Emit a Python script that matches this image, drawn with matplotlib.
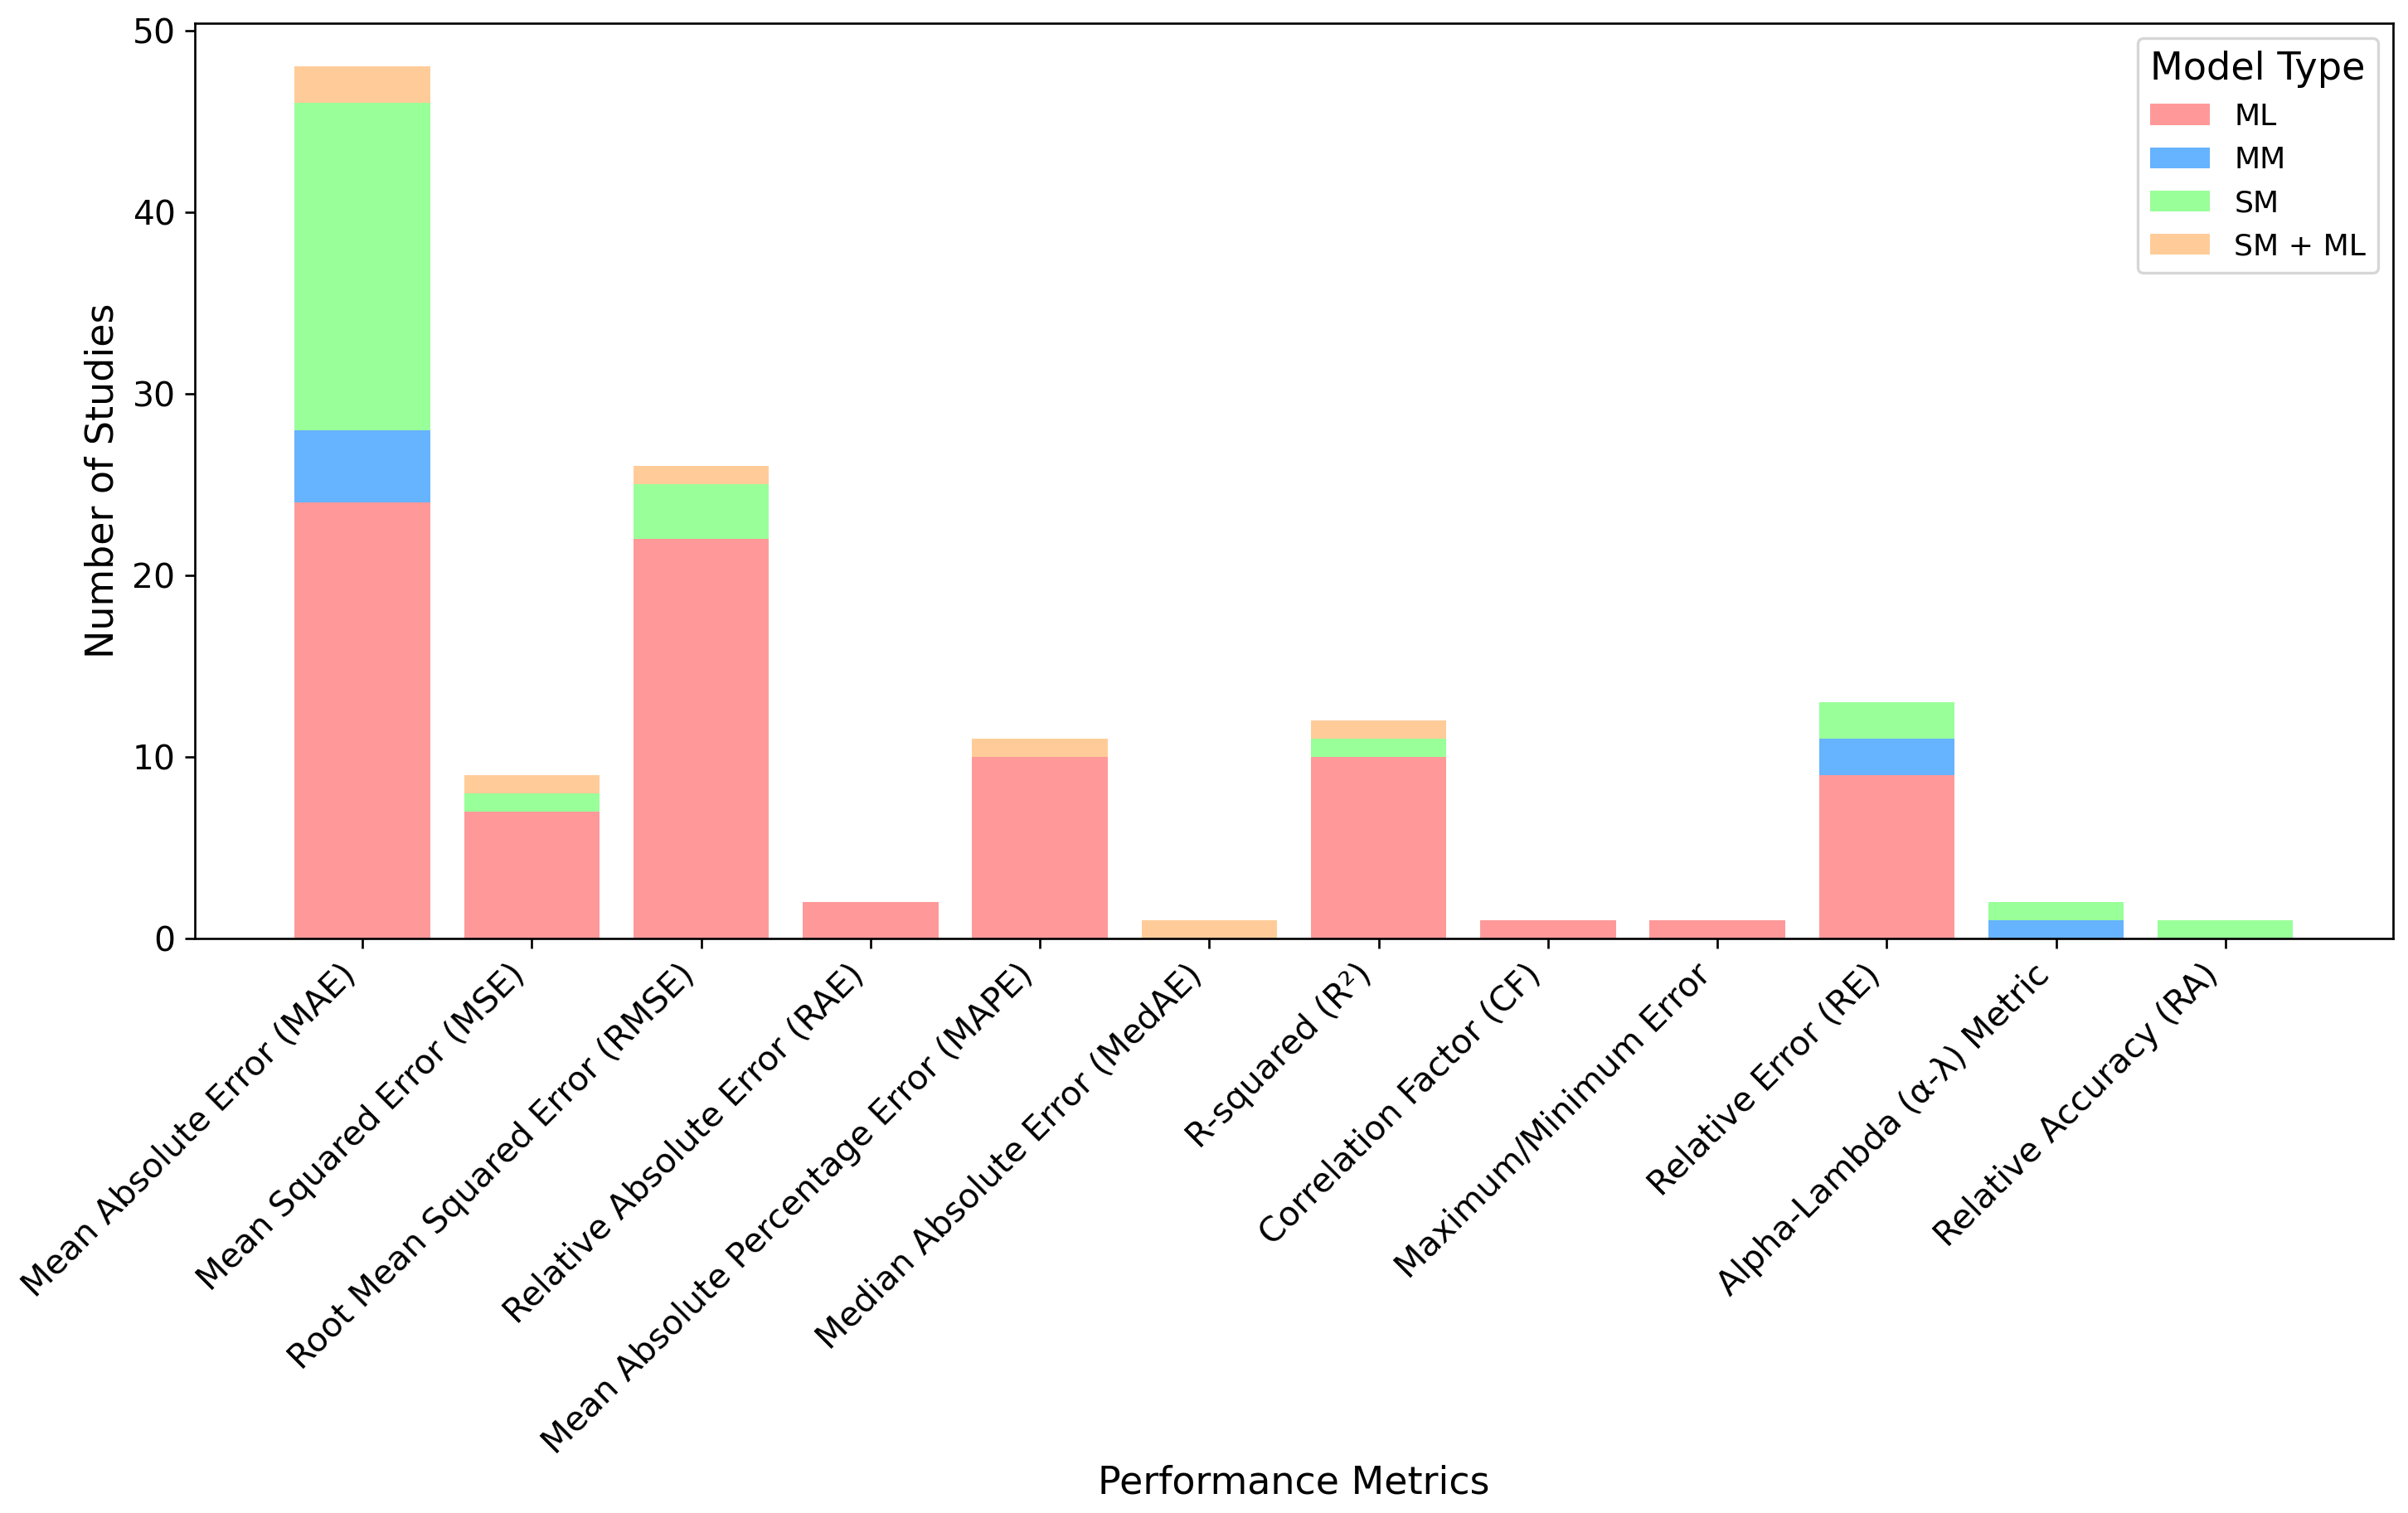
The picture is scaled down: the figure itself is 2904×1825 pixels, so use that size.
import numpy as np
import matplotlib
matplotlib.use("Agg")
from matplotlib import pyplot as plt

# metrics on the x axis
metrics = ["Mean Absolute Error (MAE)", "Mean Squared Error (MSE)",
           "Root Mean Squared Error (RMSE)", "Relative Absolute Error (RAE)",
           "Mean Absolute Percentage Error (MAPE)", "Median Absolute Error (MedAE)",
           "R-squared (R²)", "Correlation Factor (CF)", "Maximum/Minimum Error",
           "Relative Error (RE)", "Alpha-Lambda (α-λ) Metric", "Relative Accuracy (RA)"]

# number of studies per model type
ml = [24, 7, 22, 2, 10, 0, 10, 1, 1, 9, 0, 0]
mm = [4, 0, 0, 0, 0, 0, 0, 0, 0, 2, 1, 0]
sm = [18, 1, 3, 0, 0, 0, 1, 0, 0, 2, 1, 1]
sm_ml = [2, 1, 1, 0, 1, 1, 1, 0, 0, 0, 0, 0]

model_types = ["ML", "MM", "SM", "SM + ML"]
colors = ["#ff9999", "#66b3ff", "#99ff99", "#ffcc99"]

fig = plt.figure(figsize=(12.1, 1825 / 240), dpi=240)
ax = fig.add_axes([0.0809, 0.3797, 0.9129, 0.6050])

x = np.arange(len(metrics))
bottom = np.zeros(len(metrics))
for name, vals, c in zip(model_types, [ml, mm, sm, sm_ml], colors):
    ax.bar(x, vals, bottom=bottom, color=c, label=name)
    bottom += np.array(vals)

ax.set_xticks(x)
ax.set_xticklabels(metrics, rotation=45, ha="right", fontsize=12.25)
ax.tick_params(axis="y", labelsize=12.25)
ax.set_xlabel("Performance Metrics", fontsize=13.8, labelpad=1.5)
ax.set_ylabel("Number of Studies", fontsize=13.8)
ax.legend(title="Model Type", loc="upper right", fontsize=10.9, title_fontsize=13.9)

fig.savefig("out.png", dpi=240)
